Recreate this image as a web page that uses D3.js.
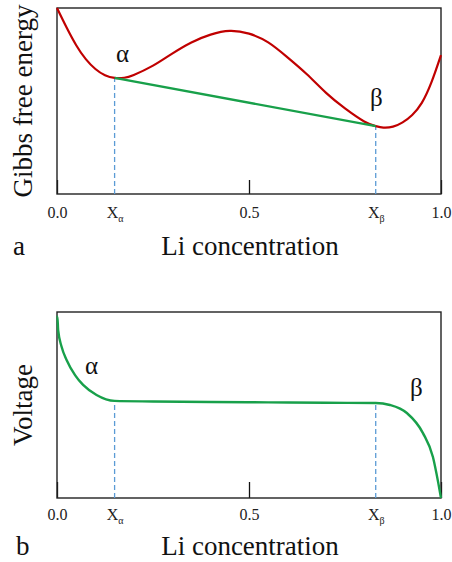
<!DOCTYPE html>
<html>
<head>
<meta charset="utf-8">
<script src="https://cdn.jsdelivr.net/npm/d3@7"></script>
<style>
  body { margin: 0; background: #fff; }
</style>
</head>
<body>
<div id="chart"></div>
<script>
// values (x = Li concentration, y = relative units)
var gibbsX = [0, 0.025, 0.05, 0.075, 0.1, 0.125, 0.15, 0.175, 0.2, 0.25, 0.3, 0.35, 0.4, 0.45, 0.5, 0.55, 0.6, 0.65, 0.7, 0.75, 0.8, 0.83, 0.85, 0.875, 0.9, 0.925, 0.95, 0.975, 1.0];
var gibbsG = [1.0, 0.895, 0.80, 0.725, 0.672, 0.638, 0.624, 0.625, 0.64, 0.69, 0.755, 0.815, 0.857, 0.877, 0.862, 0.815, 0.735, 0.645, 0.545, 0.46, 0.39, 0.365, 0.357, 0.362, 0.385, 0.425, 0.49, 0.6, 0.747];

var voltX = [0, 0.001, 0.003, 0.012, 0.025, 0.047, 0.068, 0.103, 0.15, 0.25, 0.4, 0.55, 0.7, 0.83, 0.867, 0.911, 0.953, 0.979, 0.993, 1.0];
var voltV = [0.973, 0.975, 0.903, 0.813, 0.742, 0.661, 0.608, 0.554, 0.522, 0.519, 0.516, 0.514, 0.512, 0.511, 0.50, 0.457, 0.349, 0.22, 0.08, 0.0];

var xAlpha = 0.15, xBeta = 0.83;
var tangentG = [0.624, 0.365];   // common tangent ends
var plateauV = [0.522, 0.511];   // voltage at X_alpha, X_beta

var tickVals = [0, xAlpha, 0.5, xBeta, 1];
var tickText = ["0.0", "X|α", "0.5", "X|β", "1.0"];
var majorTicks = [0, 0.5, 1];

var serif = "Liberation Serif, Times New Roman, serif";
var svgWidth = 452, svgHeight = 562;
var left = 57, right = 441;

var svg = d3.select("#chart").append("svg")
  .attr("width", svgWidth)
  .attr("height", svgHeight)
  .attr("font-family", serif);

var x = d3.scaleLinear().domain([0, 1]).range([left, right]);

function label(g, txt, xPos, yPos, size) {
  return g.append("text")
    .attr("x", xPos).attr("y", yPos)
    .attr("font-family", serif)
    .attr("font-size", size)
    .attr("fill", "#111")
    .text(txt);
}

function drawFrame(top, bottom, yLabel, panel, labelPad, tickLen, titleY) {
  var g = svg.append("g");

  // inward major ticks
  g.append("g")
    .attr("transform", `translate(0, ${bottom})`)
    .call(d3.axisTop(x).tickValues(majorTicks).tickSize(tickLen).tickFormat(""))
    .call(a => a.select(".domain").remove())
    .call(a => a.selectAll("line").attr("stroke", "#111").attr("stroke-width", 1.3));

  // labels
  var ax = g.append("g")
    .attr("transform", `translate(0, ${bottom})`)
    .call(d3.axisBottom(x).tickValues(tickVals).tickSize(0).tickPadding(labelPad).tickFormat(""))
    .call(a => a.select(".domain").remove())
    .attr("font-family", serif);

  ax.selectAll(".tick text")
    .attr("font-family", serif)
    .attr("font-size", 16)
    .attr("fill", "#222")
    .each(function(d, i) {
      var parts = tickText[i].split("|");
      var t = d3.select(this);
      t.append("tspan").text(parts[0]);
      if (parts[1]) {
        t.append("tspan").attr("font-size", 10).attr("dy", 4).text(parts[1]);
      }
    });

  // box
  g.append("rect")
    .attr("x", left).attr("y", top)
    .attr("width", right - left).attr("height", bottom - top)
    .attr("fill", "none")
    .attr("stroke", "#222")
    .attr("stroke-width", 1.4);

  label(g, "Li concentration", (left + right) / 2 + 1, titleY, 27)
    .attr("text-anchor", "middle");

  label(g, panel, panel == "a" ? 13 : 16, titleY, 27);

  label(g, yLabel, 0, 0, 27)
    .attr("transform", `translate(32, ${(top + bottom) / 2}) rotate(-90)`)
    .attr("text-anchor", "middle");

  return g;
}

// ---- panel a : Gibbs free energy ----
var topA = 8, bottomA = 194;
var yA = d3.scaleLinear().domain([0, 1]).range([bottomA, topA]);
var gA = drawFrame(topA, bottomA, "Gibbs free energy", "a", 13, 14, 255);

gA.selectAll(".dropA")
  .data([0, 1])
  .enter()
  .append("line")
  .attr("x1", i => x([xAlpha, xBeta][i]))
  .attr("x2", i => x([xAlpha, xBeta][i]))
  .attr("y1", yA(0))
  .attr("y2", i => yA(tangentG[i]))
  .attr("stroke", "#5b9bd5")
  .attr("stroke-width", 1.3)
  .attr("stroke-dasharray", "5,3");

var lineA = d3.line()
  .x((d, i) => x(gibbsX[i]))
  .y(d => yA(d))
  .curve(d3.curveNatural);

gA.append("path")
  .datum(gibbsG)
  .attr("d", lineA)
  .attr("fill", "none")
  .attr("stroke", "#c00000")
  .attr("stroke-width", 2.2);

gA.append("line")
  .attr("x1", x(xAlpha)).attr("y1", yA(tangentG[0]))
  .attr("x2", x(xBeta)).attr("y2", yA(tangentG[1]))
  .attr("stroke", "#18a04a")
  .attr("stroke-width", 2.4);

label(gA, "α", 116, 62, 25);
label(gA, "β", 370, 106, 25);

// ---- panel b : Voltage ----
var topB = 312, bottomB = 498;
var yB = d3.scaleLinear().domain([0, 1]).range([bottomB, topB]);
var gB = drawFrame(topB, bottomB, "Voltage", "b", 11, 16, 555);

gB.selectAll(".dropB")
  .data([0, 1])
  .enter()
  .append("line")
  .attr("x1", i => x([xAlpha, xBeta][i]))
  .attr("x2", i => x([xAlpha, xBeta][i]))
  .attr("y1", yB(0))
  .attr("y2", i => yB(plateauV[i]))
  .attr("stroke", "#5b9bd5")
  .attr("stroke-width", 1.3)
  .attr("stroke-dasharray", "5,3");

var lineB = d3.line()
  .x((d, i) => x(voltX[i]))
  .y(d => yB(d))
  .curve(d3.curveMonotoneX);

gB.append("path")
  .datum(voltV)
  .attr("d", lineB)
  .attr("fill", "none")
  .attr("stroke", "#18a04a")
  .attr("stroke-width", 2.4);

label(gB, "α", 85, 374, 25);
label(gB, "β", 410, 396, 25);
</script>
</body>
</html>
